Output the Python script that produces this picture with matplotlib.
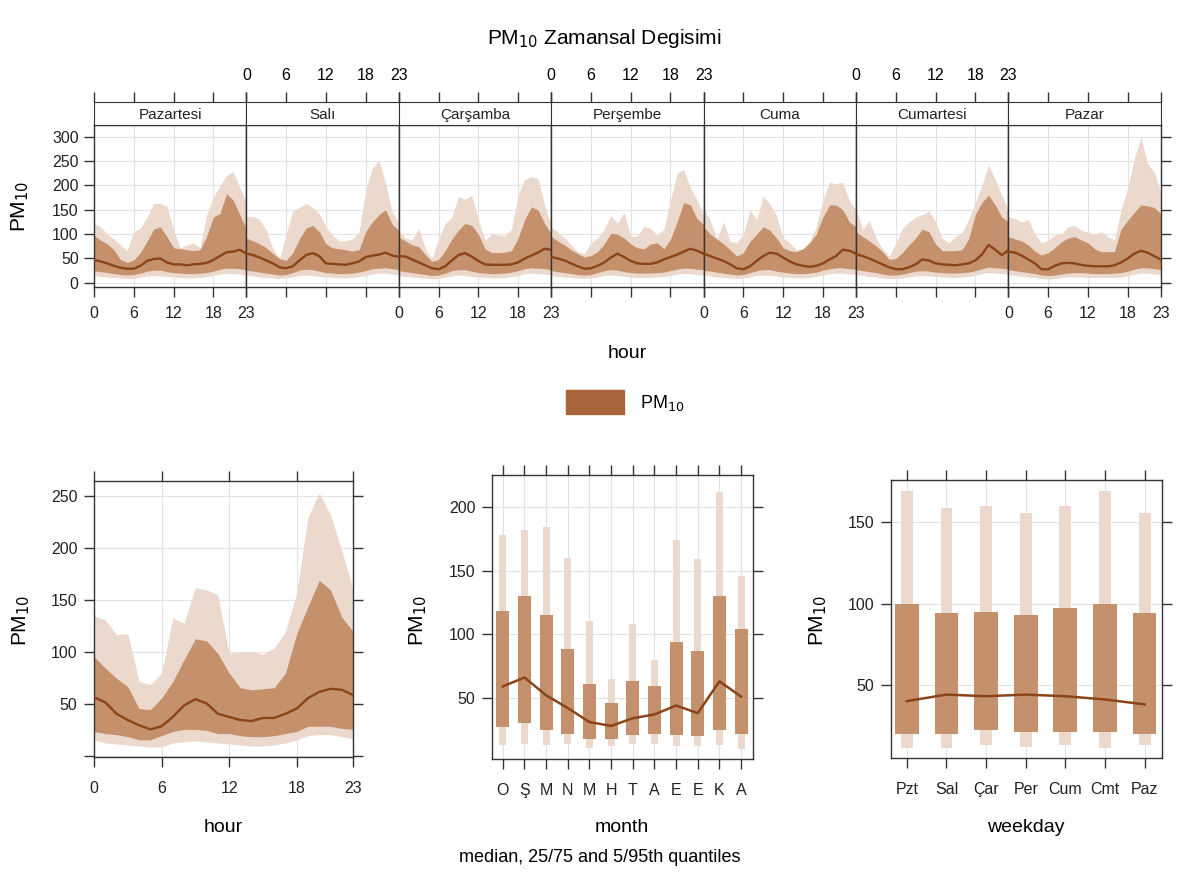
import numpy as np
import matplotlib
matplotlib.use("Agg")
import matplotlib.pyplot as plt
from matplotlib.patches import Rectangle

plt.rcParams["font.family"] = ["Liberation Sans", "DejaVu Sans"]

# ---------------------------------------------------------
# Data
# ---------------------------------------------------------
days = ["Pazartesi", "Salı", "Çarşamba", "Perşembe", "Cuma", "Cumartesi", "Pazar"]
hours = np.arange(24)

week_q95 = [
    [122, 115, 100, 90, 78, 66, 105, 112, 135, 163, 163, 158, 110, 72, 78, 82, 72, 140, 175, 200, 220, 228, 195, 165],
    [136, 136, 130, 108, 70, 50, 100, 148, 155, 163, 155, 142, 115, 98, 86, 86, 90, 105, 190, 235, 252, 205, 145, 125],
    [108, 92, 88, 112, 70, 50, 90, 122, 135, 177, 172, 180, 130, 88, 100, 98, 96, 110, 180, 212, 218, 214, 160, 120],
    [115, 104, 92, 78, 64, 60, 82, 92, 110, 138, 122, 145, 96, 96, 116, 112, 98, 110, 170, 225, 233, 195, 170, 140],
    [155, 128, 90, 125, 85, 82, 100, 150, 130, 178, 162, 138, 92, 82, 68, 70, 85, 115, 170, 207, 203, 207, 168, 150],
    [153, 110, 128, 92, 70, 55, 80, 112, 125, 135, 140, 148, 125, 92, 82, 95, 103, 130, 165, 200, 242, 212, 180, 150],
    [136, 132, 125, 130, 100, 82, 88, 98, 100, 115, 118, 108, 104, 100, 105, 95, 88, 150, 195, 255, 300, 245, 228, 185],
]
week_q75 = [
    [97, 88, 80, 68, 48, 42, 47, 62, 85, 110, 115, 95, 72, 70, 68, 66, 68, 95, 135, 142, 183, 170, 140, 110],
    [92, 86, 80, 72, 60, 50, 46, 62, 90, 112, 118, 105, 80, 72, 70, 68, 65, 68, 105, 125, 140, 150, 120, 108],
    [94, 86, 78, 74, 58, 44, 48, 66, 90, 108, 122, 118, 100, 70, 62, 62, 63, 66, 92, 130, 156, 150, 122, 100],
    [95, 86, 78, 68, 60, 53, 56, 64, 80, 102, 100, 92, 80, 72, 70, 80, 82, 70, 90, 125, 165, 160, 132, 120],
    [115, 100, 90, 80, 68, 55, 62, 85, 100, 115, 108, 92, 72, 66, 64, 70, 82, 100, 135, 160, 160, 150, 125, 115],
    [105, 95, 86, 76, 64, 48, 50, 62, 78, 92, 110, 105, 80, 66, 66, 66, 68, 90, 140, 165, 180, 160, 135, 125],
    [95, 90, 86, 78, 65, 57, 62, 72, 84, 92, 95, 88, 82, 70, 64, 64, 64, 110, 128, 145, 160, 158, 155, 142],
]
week_q50 = [
    [47, 44, 40, 35, 31, 29, 29, 35, 45, 49, 50, 42, 38, 38, 36, 38, 39, 41, 47, 55, 63, 64, 68, 60],
    [60, 57, 52, 46, 40, 32, 30, 34, 46, 57, 61, 55, 40, 39, 38, 37, 40, 44, 53, 56, 58, 62, 56, 54],
    [55, 54, 48, 42, 36, 30, 28, 34, 46, 57, 61, 54, 45, 38, 37, 37, 37, 38, 42, 50, 56, 62, 70, 68],
    [53, 50, 46, 40, 34, 29, 30, 35, 42, 52, 60, 53, 45, 40, 39, 39, 42, 48, 53, 58, 64, 70, 66, 60],
    [60, 55, 50, 45, 38, 30, 28, 34, 45, 55, 62, 60, 52, 44, 38, 35, 33, 35, 40, 48, 55, 68, 66, 60],
    [59, 55, 50, 44, 38, 32, 28, 28, 32, 38, 48, 46, 40, 38, 37, 36, 38, 40, 46, 58, 78, 68, 57, 67],
    [64, 62, 56, 48, 40, 28, 28, 35, 40, 41, 40, 37, 35, 34, 34, 34, 36, 42, 50, 60, 66, 62, 55, 48],
]
week_q25 = [
    [25, 23, 21, 19, 17, 16, 17, 20, 24, 26, 26, 23, 21, 20, 19, 19, 20, 21, 24, 28, 30, 30, 29, 27],
    [26, 24, 22, 20, 18, 16, 17, 21, 26, 28, 27, 24, 21, 20, 19, 19, 20, 22, 25, 29, 30, 31, 29, 27],
    [25, 23, 21, 19, 17, 15, 16, 20, 25, 27, 27, 24, 21, 20, 19, 19, 20, 22, 25, 29, 31, 30, 29, 27],
    [25, 23, 21, 19, 17, 16, 17, 21, 25, 27, 26, 23, 21, 20, 20, 20, 21, 22, 25, 28, 30, 30, 28, 27],
    [26, 24, 22, 20, 18, 16, 17, 21, 25, 27, 27, 24, 22, 20, 19, 19, 20, 22, 26, 29, 31, 31, 29, 28],
    [27, 25, 23, 21, 18, 16, 16, 18, 21, 24, 25, 24, 22, 21, 20, 20, 21, 22, 25, 29, 32, 31, 30, 28],
    [27, 25, 23, 21, 19, 16, 15, 16, 18, 20, 21, 21, 20, 19, 19, 19, 20, 21, 24, 28, 31, 31, 29, 27],
]
week_q05 = [
    [15, 13, 12, 11, 10, 9, 9, 12, 14, 15, 14, 13, 12, 11, 10, 10, 11, 13, 15, 18, 19, 19, 18, 16],
    [16, 14, 12, 11, 10, 9, 10, 12, 15, 16, 15, 13, 12, 11, 10, 10, 11, 13, 15, 18, 20, 20, 18, 16],
    [15, 13, 12, 11, 10, 8, 9, 12, 14, 16, 15, 13, 12, 11, 10, 10, 11, 13, 15, 19, 20, 19, 18, 16],
    [15, 13, 12, 11, 10, 9, 10, 12, 15, 16, 15, 13, 12, 11, 11, 11, 12, 13, 15, 18, 19, 19, 17, 16],
    [16, 14, 12, 11, 10, 9, 10, 12, 15, 16, 15, 14, 12, 11, 10, 10, 11, 13, 16, 19, 20, 20, 18, 17],
    [17, 15, 13, 12, 10, 9, 9, 10, 12, 14, 15, 14, 13, 12, 11, 11, 12, 13, 15, 19, 21, 20, 19, 17],
    [17, 15, 13, 12, 11, 9, 8, 9, 11, 12, 12, 12, 11, 11, 11, 11, 11, 12, 15, 18, 20, 20, 18, 17],
]

hour_q95 = [135, 131, 117, 118, 72, 69, 80, 133, 128, 162, 160, 155, 99, 100, 101, 98, 104, 120, 157, 230, 253, 232, 198, 161]
hour_q75 = [96, 85, 75, 67, 46, 45, 56, 72, 93, 113, 111, 99, 80, 66, 64, 65, 66, 80, 118, 144, 169, 160, 134, 120]
hour_q50 = [57, 52, 41, 35, 30, 26, 29, 38, 49, 55, 51, 41, 38, 35, 34, 37, 37, 41, 46, 56, 62, 65, 64, 59]
hour_q25 = [24, 22, 21, 19, 16, 16, 20, 24, 26, 26, 25, 22, 22, 20, 19, 19, 20, 22, 24, 29, 29, 29, 27, 26]
hour_q05 = [16, 13, 12, 11, 10, 9, 9, 13, 14, 15, 14, 13, 12, 11, 10, 10, 11, 13, 16, 20, 21, 21, 19, 17]

months = ["O", "Ş", "M", "N", "M", "H", "T", "A", "E", "E", "K", "A"]
month_q95 = [178, 182, 184, 160, 110, 65, 108, 80, 174, 159, 212, 146]
month_q75 = [118, 130, 115, 88, 61, 46, 63, 59, 94, 87, 130, 104]
month_q50 = [59, 66, 52, 42, 31, 28, 34, 37, 44, 38, 63, 51]
month_q25 = [27, 30, 25, 22, 18, 18, 21, 22, 21, 20, 25, 22]
month_q05 = [13, 14, 13, 14, 11, 12, 14, 14, 12, 12, 13, 10]

weekdays = ["Pzt", "Sal", "Çar", "Per", "Cum", "Cmt", "Paz"]
wday_q95 = [169, 159, 160, 156, 160, 169, 156]
wday_q75 = [100, 94, 95, 93, 97, 100, 94]
wday_q50 = [40, 44, 43, 44, 43, 41, 38]
wday_q25 = [20, 20, 22, 21, 21, 21, 20]
wday_q05 = [11, 11, 13, 12, 13, 11, 13]

# ---------------------------------------------------------
# Styling
# ---------------------------------------------------------
W, H = 1177, 877
light = "#ebd9cd"
dark = "#c5916d"
line_col = "#8a4418"
grid_col = "#e2e2e2"
axis_col = "#333333"
PM = "PM$_{10}$"
tick_fs = 11.5


def box(x0, y0, x1, y1):
    return [x0 / W, 1 - y1 / H, (x1 - x0) / W, (y1 - y0) / H]


def style(ax, pad=10):
    for s in ax.spines.values():
        s.set_color(axis_col)
        s.set_linewidth(1.0)
    ax.tick_params(direction="out", length=7, width=1, color=axis_col,
                   labelsize=tick_fs, pad=pad, labelcolor="#222222")
    ax.set_axisbelow(True)
    ax.grid(color=grid_col, linewidth=0.8)


fig = plt.figure(figsize=(W / 100, H / 100), dpi=100)

# ---- Top: hour x day ----
x_start, day_w = 94, 152.4
for i, day in enumerate(days):
    x0 = x_start + i * day_w
    ax = fig.add_axes(box(x0, 125, x0 + day_w, 287))
    style(ax, pad=7)
    ax.fill_between(hours, week_q05[i], week_q95[i], color=light, lw=0, zorder=1)
    ax.fill_between(hours, week_q25[i], week_q75[i], color=dark, lw=0, zorder=2)
    ax.plot(hours, week_q50[i], color=line_col, lw=1.7, zorder=3)
    ax.set_xlim(0, 23)
    ax.set_ylim(-8.5, 324)
    ax.set_xticks([0, 6, 12, 18, 23])
    ax.set_yticks(range(0, 301, 50))
    ax.tick_params(axis="x", labelbottom=(i % 2 == 0))
    ax.tick_params(axis="y", left=(i == 0), labelleft=(i == 0),
                   right=(i == 6), labelright=False, pad=4)

    st = fig.add_axes(box(x0, 102, x0 + day_w, 125))
    for s in st.spines.values():
        s.set_color(axis_col)
    st.set_xlim(0, 23)
    st.set_yticks([])
    st.set_xticks([0, 6, 12, 18, 23])
    st.tick_params(axis="x", direction="out", length=7, width=1, color=axis_col,
                   top=True, bottom=False, labeltop=(i % 2 == 1),
                   labelbottom=False, labelsize=tick_fs, pad=7)
    st.text(0.5, 0.45, day, transform=st.transAxes, ha="center", va="center",
            fontsize=11, color="#222222")

fig.text(604 / W, 1 - 38 / H, "PM$_{10}$ Zamansal Degisimi", ha="center",
         va="center", fontsize=15)
fig.text(20 / W, 1 - 206 / H, PM, rotation=90, ha="center", va="center", fontsize=15)
fig.text(627 / W, 1 - 354 / H, "hour", ha="center", va="center", fontsize=14)

# legend
fig.patches.append(Rectangle((566 / W, 1 - 414 / H), 58 / W, 24 / H,
                             transform=fig.transFigure, color="#a8653b"))
fig.text(640 / W, 1 - 403 / H, PM, ha="left", va="center", fontsize=13)

# ---- Bottom left: hour ----
ax = fig.add_axes(box(94, 481, 353, 757))
style(ax)
ax.fill_between(hours, hour_q05, hour_q95, color=light, lw=0, zorder=1)
ax.fill_between(hours, hour_q25, hour_q75, color=dark, lw=0, zorder=2)
ax.plot(hours, hour_q50, color=line_col, lw=1.7, zorder=3)
ax.set_xlim(0, 23)
ax.set_ylim(-0.5, 264.5)
ax.set_xticks([0, 6, 12, 18, 23])
ax.set_yticks(range(0, 251, 50))
ax.set_yticklabels([""] + [str(v) for v in range(50, 251, 50)])
ax.tick_params(top=True, right=True)
ax.tick_params(axis="y", pad=5)
fig.text(21 / W, 1 - 620 / H, PM, rotation=90, ha="center", va="center", fontsize=15)
fig.text(223 / W, 1 - 828 / H, "hour", ha="center", va="center", fontsize=14)

# ---- Bottom middle: month ----
ax = fig.add_axes(box(492, 475, 753, 759))
style(ax)
mx = np.arange(1, 13)
ax.bar(mx, np.array(month_q95) - np.array(month_q05), bottom=month_q05,
       width=0.32, color=light, zorder=1)
ax.bar(mx, np.array(month_q75) - np.array(month_q25), bottom=month_q25,
       width=0.6, color=dark, zorder=2)
ax.plot(mx, month_q50, color=line_col, lw=1.8, zorder=3)
ax.set_xlim(0.5, 12.55)
ax.set_ylim(2, 225)
ax.set_xticks(mx)
ax.set_xticklabels(months)
ax.set_yticks([50, 100, 150, 200])
ax.tick_params(top=True, right=True)
ax.tick_params(axis="y", pad=5)
fig.text(418 / W, 1 - 620 / H, PM, rotation=90, ha="center", va="center", fontsize=15)
fig.text(622 / W, 1 - 828 / H, "month", ha="center", va="center", fontsize=14)
fig.text(600 / W, 1 - 858 / H, "median, 25/75 and 5/95th quantiles",
         ha="center", va="center", fontsize=13)

# ---- Bottom right: weekday ----
ax = fig.add_axes(box(891, 480, 1162, 758))
style(ax)
wx = np.arange(1, 8)
ax.bar(wx, np.array(wday_q95) - np.array(wday_q05), bottom=wday_q05,
       width=0.3, color=light, zorder=1)
ax.bar(wx, np.array(wday_q75) - np.array(wday_q25), bottom=wday_q25,
       width=0.6, color=dark, zorder=2)
ax.plot(wx, wday_q50, color=line_col, lw=1.8, zorder=3)
ax.set_xlim(0.6, 7.44)
ax.set_ylim(5, 176)
ax.set_xticks(wx)
ax.set_xticklabels(weekdays)
ax.set_yticks([50, 100, 150])
ax.tick_params(top=True, right=True)
ax.tick_params(axis="y", pad=5)
fig.text(818 / W, 1 - 620 / H, PM, rotation=90, ha="center", va="center", fontsize=15)
fig.text(1026 / W, 1 - 828 / H, "weekday", ha="center", va="center", fontsize=14)

fig.savefig("out.png", dpi=100, facecolor="white")
